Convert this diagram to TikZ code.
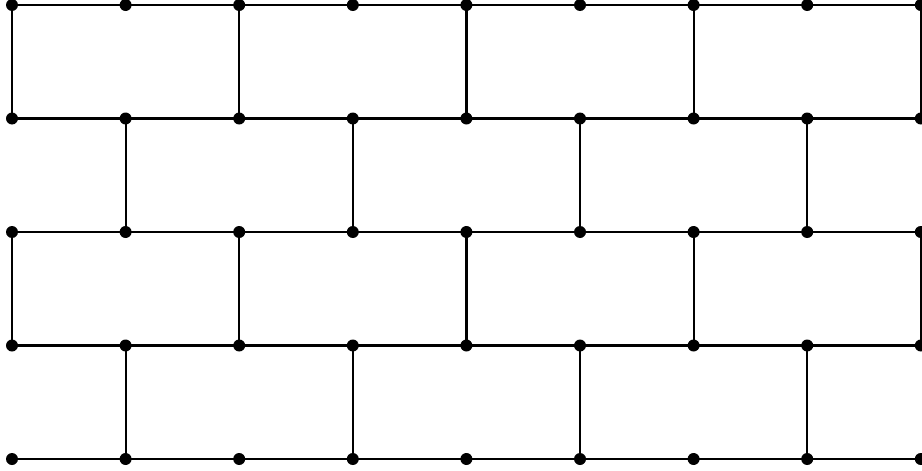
\documentclass[tikz,border=0pt]{standalone}
\begin{document}
\begin{tikzpicture}[x=1pt,y=-1pt,
  dotnode/.style={circle,fill=black,inner sep=0pt,minimum size=12pt},
  edge/.style={line width=2.2pt,black}]
\useasboundingbox (0,0) rectangle (922,471);
\foreach \i in {0,...,8}{
  \foreach \j in {0,...,4}{
    \coordinate (c-\i-\j) at ({12+\i*113.6},{5+\j*113.5});
  }
}
% horizontal lines
\foreach \j in {0,...,4}{
  \draw[edge] (c-0-\j) -- (c-8-\j);
}
% vertical lines
\foreach \j/\k in {0/1,2/3}{
  \foreach \i in {0,2,4,6,8}{
    \draw[edge] (c-\i-\j) -- (c-\i-\k);
  }
}
\foreach \j/\k in {1/2,3/4}{
  \foreach \i in {1,3,5,7}{
    \draw[edge] (c-\i-\j) -- (c-\i-\k);
  }
}
% dots
\foreach \i in {0,...,8}{
  \foreach \j in {0,...,4}{
    \node[dotnode] (n-\i-\j) at (c-\i-\j) {};
  }
}
\end{tikzpicture}
\end{document}
